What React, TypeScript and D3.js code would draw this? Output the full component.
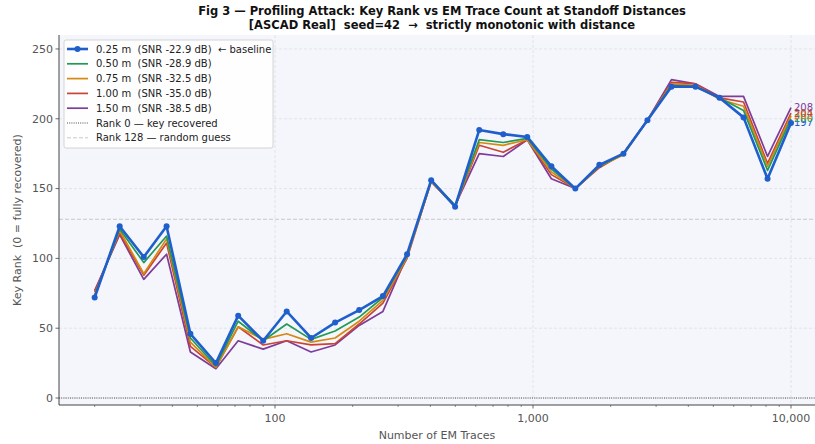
import * as d3 from 'd3'

const W = 815
const H = 444

// trace counts (log-spaced)
const TRACES = [20, 25, 31, 38, 47, 59, 72, 90, 111, 138, 171, 212, 262, 325, 403, 499, 619, 767, 950, 1178, 1459, 1808, 2241, 2777, 3441, 4264, 5283, 6547, 8112, 10000]

const RANK_025 = [72, 123, 101, 123, 46, 25, 59, 41, 62, 43, 54, 63, 73, 103, 156, 137, 192, 189, 187, 166, 150, 167, 175, 199, 223, 223, 215, 201, 157, 197]
const RANK_050 = [73, 121, 97, 116, 43, 23, 55, 41, 53, 42, 48, 58, 72, 102, 156, 138, 185, 183, 186, 164, 150, 166, 175, 199, 224, 223, 215, 206, 163, 200]
const RANK_075 = [74, 120, 89, 114, 40, 22, 51, 42, 46, 40, 43, 55, 70, 101, 155, 137, 183, 181, 185, 162, 150, 166, 174, 199, 225, 224, 214, 209, 166, 202]
const RANK_100 = [76, 118, 88, 111, 37, 22, 51, 38, 41, 38, 39, 53, 68, 100, 155, 137, 181, 176, 185, 160, 150, 165, 175, 199, 226, 225, 215, 212, 168, 204]
const RANK_150 = [77, 117, 85, 103, 33, 21, 41, 35, 41, 33, 38, 52, 62, 102, 155, 138, 175, 173, 185, 157, 150, 166, 175, 199, 228, 225, 216, 216, 173, 208]

const SERIES_LABELS = [
  '0.25 m  (SNR -22.9 dB)  \u2190 baseline',
  '0.50 m  (SNR -28.9 dB)',
  '0.75 m  (SNR -32.5 dB)',
  '1.00 m  (SNR -35.0 dB)',
  '1.50 m  (SNR -38.5 dB)',
]
const SERIES_COLORS = ['#1f5fcc', '#229954', '#d68910', '#cb4335', '#7d3c98']
const SERIES_VALUES = [RANK_025, RANK_050, RANK_075, RANK_100, RANK_150]

const Y_TICKS = [0, 50, 100, 150, 200, 250]
const X_TICKS = [100, 1000, 10000]

const FONT = 'DejaVu Sans, sans-serif'

export default function App() {
  const left = 59
  const right = 815
  const top = 35
  const bottom = 405

  // 100 -> 275px, 10000 -> 791px
  const x = d3.scaleLog().domain([100, 10000]).range([275, 791])
  const y = d3.scaleLinear().domain([-5, 260]).range([bottom, top])

  const xMin = x.invert(left)
  const minorTicks: number[] = []
  for (let p = 1; p <= 4; p++) {
    for (let m = 2; m <= 9; m++) {
      const v = m * Math.pow(10, p)
      if (v >= xMin && x(v) <= right) minorTicks.push(v)
    }
  }

  const line = d3.line<number>()
    .x((_, i) => x(TRACES[i]))
    .y(d => y(d))

  const fmt = d3.format(',')

  // farthest distance drawn first so the baseline sits on top
  const order = [4, 3, 2, 1, 0]

  return (
    <div style={{ position: 'fixed', left: 0, top: 0 }}>
      <svg width={W} height={H} style={{ display: 'block', fontFamily: FONT }}>
        <rect width={W} height={H} fill="#ffffff" />
        <text x={442} y={15} textAnchor="middle" fontSize={11.5} fontWeight="bold" fill="#111">
          Fig 3 — Profiling Attack: Key Rank vs EM Trace Count at Standoff Distances
        </text>
        <text x={442} y={28.5} textAnchor="middle" fontSize={11.5} fontWeight="bold" fill="#111" style={{ whiteSpace: 'pre' }}>
          {'[ASCAD Real]  seed=42  \u2192  strictly monotonic with distance'}
        </text>

        <defs>
          <clipPath id="plot-clip">
            <rect x={left} y={top} width={right - left} height={bottom - top} />
          </clipPath>
        </defs>

        <rect x={left} y={top} width={right - left} height={bottom - top} fill="#f4f6fb" />

        {/* grid */}
        {Y_TICKS.map(t => (
          <line key={'gy' + t} x1={left} x2={right} y1={y(t)} y2={y(t)} stroke="#dcdfe6" strokeWidth={0.8} strokeDasharray="3,2" />
        ))}
        {X_TICKS.map(t => (
          <line key={'gx' + t} x1={x(t)} x2={x(t)} y1={top} y2={bottom} stroke="#dcdfe6" strokeWidth={0.8} strokeDasharray="3,2" />
        ))}

        {/* reference lines */}
        <line x1={left} x2={right} y1={y(128)} y2={y(128)} stroke="#c4c4c4" strokeWidth={0.9} strokeDasharray="4,2" />
        <line x1={left} x2={right} y1={y(0)} y2={y(0)} stroke="#222" strokeWidth={0.8} strokeDasharray="1,1.2" />

        <g clipPath="url(#plot-clip)">
          {order.map(si => (
            <path
              key={'s' + si}
              d={line(SERIES_VALUES[si]) || ''}
              fill="none"
              stroke={SERIES_COLORS[si]}
              strokeWidth={si === 0 ? 2.6 : 1.7}
              strokeLinejoin="round"
            />
          ))}
          {RANK_025.map((v, i) => (
            <circle key={'m' + i} cx={x(TRACES[i])} cy={y(v)} r={3} fill={SERIES_COLORS[0]} />
          ))}
        </g>

        {/* end labels (they overlap in the original too) */}
        {SERIES_VALUES.map((vals, si) => (
          <text
            key={'e' + si}
            x={x(TRACES[TRACES.length - 1]) + 3}
            y={y(vals[vals.length - 1])}
            dy="0.35em"
            fontSize={10}
            fill={SERIES_COLORS[si]}
          >
            {vals[vals.length - 1]}
          </text>
        ))}

        {/* spines */}
        <line x1={left} x2={left} y1={top} y2={bottom} stroke="#444" strokeWidth={1} />
        <line x1={left} x2={right} y1={bottom} y2={bottom} stroke="#444" strokeWidth={1} />

        {/* y axis */}
        {Y_TICKS.map(t => (
          <g key={'ty' + t}>
            <line x1={left - 3.5} x2={left} y1={y(t)} y2={y(t)} stroke="#444" strokeWidth={0.8} />
            <text x={left - 6} y={y(t)} dy="0.35em" textAnchor="end" fontSize={11} fill="#555">{t}</text>
          </g>
        ))}

        {/* x axis */}
        {X_TICKS.map(t => (
          <g key={'tx' + t}>
            <line x1={x(t)} x2={x(t)} y1={bottom} y2={bottom + 3.5} stroke="#444" strokeWidth={0.8} />
            <text x={x(t)} y={bottom + 13} dy="0.35em" textAnchor="middle" fontSize={11} fill="#555">{fmt(t)}</text>
          </g>
        ))}
        {minorTicks.map(t => (
          <line key={'mx' + t} x1={x(t)} x2={x(t)} y1={bottom} y2={bottom + 2} stroke="#444" strokeWidth={0.6} />
        ))}

        <text x={(left + right) / 2} y={439} textAnchor="middle" fontSize={11} fill="#555">Number of EM Traces</text>
        <text
          transform={`translate(17,${(top + bottom) / 2}) rotate(-90)`}
          textAnchor="middle"
          dy="0.35em"
          fontSize={11}
          fill="#555"
          style={{ whiteSpace: 'pre' }}
        >
          {'Key Rank  (0 = fully recovered)'}
        </text>

        {/* legend */}
        <g transform="translate(64,40)">
          <rect x={0} y={0} width={209} height={108} rx={2} fill="#ffffff" fillOpacity={0.9} stroke="#cccccc" strokeWidth={0.8} />
          {SERIES_LABELS.map((lab, i) => (
            <g key={'l' + i} transform={`translate(0,${9 + i * 14.8})`}>
              <line x1={3} x2={24} y1={0} y2={0} stroke={SERIES_COLORS[i]} strokeWidth={i === 0 ? 2.6 : 1.7} />
              {i === 0 && <circle cx={13.5} cy={0} r={3} fill={SERIES_COLORS[0]} />}
              <text x={32} y={0} dy="0.35em" fontSize={10} fill="#222" style={{ whiteSpace: 'pre' }}>{lab}</text>
            </g>
          ))}
          <g transform={`translate(0,${9 + 5 * 14.8})`}>
            <line x1={3} x2={24} y1={0} y2={0} stroke="#222" strokeWidth={0.8} strokeDasharray="1,1.2" />
            <text x={32} y={0} dy="0.35em" fontSize={10} fill="#222">Rank 0 — key recovered</text>
          </g>
          <g transform={`translate(0,${9 + 6 * 14.8})`}>
            <line x1={3} x2={24} y1={0} y2={0} stroke="#c4c4c4" strokeWidth={0.9} strokeDasharray="4,2" />
            <text x={32} y={0} dy="0.35em" fontSize={10} fill="#222">Rank 128 — random guess</text>
          </g>
        </g>
      </svg>
    </div>
  )
}
